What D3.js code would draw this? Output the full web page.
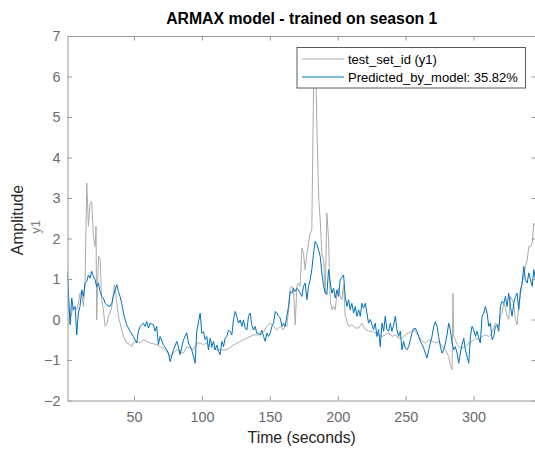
<!DOCTYPE html>
<html>
<head>
<meta charset="utf-8">
<script src="https://d3js.org/d3.v7.min.js"></script>
<style>
  body { margin: 0; background: #fff; }
  text { font-family: "Liberation Sans", Arial, sans-serif; }
</style>
</head>
<body>
<script>
const timeMeasured = [1, 2.9, 5.3, 7.8, 9.0, 10.2, 11.5, 12.7, 13.9, 15.2, 16.4, 17.6, 18.8, 20.1, 21.3, 22.0, 22.5, 23.8, 25.0, 26.2,
  27.4, 28.7, 29.9, 31.1, 32.3, 33.6, 34.8, 35.5, 36.0, 37.3, 38.5, 39.7, 40.9, 42.2, 43.4, 44.6, 47.1, 48.3, 49.5, 52.0,
  54.5, 56.9, 59.4, 61.8, 66.7, 69.2, 71.6, 74.1, 76.6, 79.0, 81.5, 83.9, 86.4, 88.8, 91.3, 93.7, 96.2, 98.7, 101.1, 103.6,
  106.1, 108.5, 111.0, 113.4, 118.3, 123.2, 128.2, 133.1, 138.0, 142.9, 145.4, 147.8, 150.3, 152.7, 155.2, 157.6, 160.1, 161.3, 162.5, 163.8,
  165.0, 166.2, 167.4, 168.7, 169.9, 171.1, 172.3, 173.6, 174.8, 176.0, 177.3, 178.5, 179.7, 180.9, 182.2, 183.0, 184.0, 184.7, 186.0, 187.1,
  188.3, 189.6, 190.8, 192.0, 193.2, 194.5, 195.7, 196.9, 198.2, 199.4, 200.6, 201.8, 203.1, 204.3, 205.5, 206.8, 208.0, 210.4, 212.9, 215.4,
  217.8, 220.3, 222.7, 225.2, 227.6, 230.1, 232.6, 235.0, 237.5, 239.9, 242.4, 244.8, 247.3, 249.8, 252.2, 254.7, 255.9, 257.1, 259.6, 262.1,
  264.5, 267.0, 269.4, 271.9, 274.3, 276.8, 279.3, 281.7, 282.9, 284.2, 284.9, 285.4, 286.6, 287.9, 289.1, 291.5, 294.0, 296.5, 298.9, 301.4,
  303.8, 306.3, 308.7, 311.2, 313.7, 316.1, 318.6, 319.8, 321.0, 322.3, 323.5, 324.7, 325.9, 327.2, 328.4, 329.6, 330.9, 332.1, 333.3, 334.6,
  335.8, 337.0, 338.2, 339.5, 340.7, 341.9, 343.2, 344.4, 345.6];
const measured = [0.6, -0.01, 0.32, 0.24, 0.40, 0.65, 0.65, 0.32, 0.90, 3.37, 2.30, 2.87, 2.91, 2.05, 1.80, 2.30, -0.01, 1.56, 1.48, 0.49,
  0.24, -0.17, -0.13, 0.08, 0.16, 0.32, 0.65, 0.86, 0.81, 0.40, 0.08, -0.09, -0.25, -0.42, -0.50, -0.58, -0.62, -0.67, -0.58, -0.54,
  -0.58, -0.50, -0.54, -0.58, -0.62, -0.67, -0.71, -0.79, -0.91, -0.83, -0.75, -0.79, -0.83, -0.67, -0.71, -0.75, -0.58, -0.58, -0.62, -0.58,
  -0.67, -0.71, -0.75, -0.75, -0.75, -0.63, -0.54, -0.46, -0.38, -0.38, -0.30, -0.17, -0.09, -0.17, -0.26, -0.17, -0.26, -0.13, -0.17, 0.24,
  0.77, 0.82, 0.73, -0.13, 0.82, 0.90, 0.82, 1.76, 1.64, 1.23, 1.64, 1.88, 2.13, 2.21, 5.75, 6.40, 5.90, 4.68, 3.00, 2.46,
  1.64, 1.48, 0.65, 2.63, 2.00, 0.48, 0.24, 0.32, 0.24, 0.65, 0.77, 0.57, 0.49, 0.86, 0.10, -0.05, -0.17, -0.13, -0.21, -0.21,
  -0.09, -0.25, -0.29, -0.29, -0.33, -0.38, -0.42, -0.38, -0.33, -0.42, -0.38, -0.46, -0.46, -0.38, -0.33, -0.29, -0.21, -0.29, -0.42, -0.54,
  -0.58, -0.50, -0.54, -0.58, -0.54, -0.67, -0.75, -0.91, -1.12, -1.24, 0.65, -0.42, -0.50, -0.62, -0.67, -0.71, -0.67, -0.58, -0.54, -0.46,
  -0.50, -0.42, -0.38, -0.42, -0.33, -0.09, -0.17, 0.08, 0.16, 0.40, 0.28, 0.08, 0.00, 0.57, 0.49, 0.40, 0.00, -0.13, 0.32, 0.65,
  0.90, 1.06, 1.31, 1.47, 1.80, 1.80, 1.88, 2.38, 2.30];

// model prediction (blue)
const timePredicted = [0.9, 2.9, 4.1, 5.3, 6.6, 7.8, 9.0, 10.2, 11.5, 12.7, 13.9, 15.2, 16.4, 17.6, 18.8, 20.1, 21.3, 22.5, 23.8, 25.0,
  26.2, 27.4, 28.7, 29.9, 32.3, 33.6, 34.8, 36.0, 37.3, 38.5, 39.7, 40.9, 42.2, 43.4, 44.6, 47.1, 49.5, 52.0, 53.2, 54.5,
  56.9, 58.1, 59.4, 60.6, 61.8, 64.3, 65.5, 66.7, 67.9, 69.2, 71.6, 74.1, 75.3, 76.6, 79.0, 81.5, 82.7, 83.9, 86.4, 88.8,
  90.1, 92.5, 95.0, 96.2, 98.7, 99.9, 101.1, 102.4, 103.6, 104.8, 106.1, 107.3, 108.5, 109.7, 111.0, 112.2, 113.4, 114.7, 115.9, 117.1,
  118.3, 119.6, 120.8, 122.0, 123.2, 124.5, 125.7, 126.9, 128.2, 129.4, 130.6, 131.8, 133.1, 134.3, 135.5, 136.7, 138.0, 139.2, 140.4, 141.7,
  142.9, 144.1, 145.4, 146.6, 147.8, 149.0, 150.3, 151.5, 152.7, 154.0, 155.2, 156.4, 157.6, 158.9, 160.1, 161.3, 162.5, 163.8, 165.0, 166.2,
  167.4, 168.7, 169.9, 171.1, 172.3, 173.6, 174.8, 176.0, 177.3, 178.5, 179.7, 180.9, 182.2, 183.4, 184.6, 185.9, 187.1, 188.3, 189.6, 190.8,
  192.0, 193.2, 194.5, 195.7, 196.9, 198.2, 199.4, 200.6, 201.8, 204.3, 205.5, 206.8, 208.0, 209.2, 210.4, 211.7, 212.9, 214.1, 215.4, 216.6,
  217.8, 219.0, 220.3, 221.5, 222.7, 224.0, 225.2, 226.4, 227.6, 228.9, 230.1, 231.3, 232.6, 233.8, 235.0, 236.2, 237.5, 238.7, 239.9, 241.2,
  242.4, 243.6, 244.8, 246.1, 247.3, 248.5, 249.8, 251.0, 252.2, 253.5, 254.7, 255.9, 257.1, 258.4, 259.6, 260.8, 262.1, 263.3, 264.5, 265.7,
  267.0, 268.2, 269.4, 270.7, 271.9, 273.1, 274.3, 275.6, 276.8, 278.0, 279.3, 280.5, 281.7, 282.9, 284.2, 285.4, 286.6, 287.9, 289.1, 290.3,
  291.5, 292.8, 294.0, 295.2, 296.5, 297.7, 298.9, 300.1, 301.4, 302.6, 303.8, 305.0, 306.3, 307.5, 308.7, 310.0, 311.2, 312.4, 313.7, 314.9,
  316.1, 317.3, 318.6, 319.8, 321.0, 322.3, 323.5, 324.7, 325.9, 327.2, 328.4, 329.6, 330.9, 332.1, 333.3, 334.6, 335.8, 337.0, 338.2, 339.5,
  340.7, 341.9, 343.2, 344.4, 345.6];
const predicted = [1.19, -0.13, 0.53, 0.24, 0.32, -0.38, 0.16, 0.32, 0.73, 0.57, 0.90, 0.94, 1.10, 1.02, 1.19, 1.06, 0.98, 0.81, 0.90, 0.69,
  0.57, 0.53, 0.40, 0.36, 0.32, 0.40, 0.57, 0.73, 0.86, 0.69, 0.57, 0.40, 0.16, 0.00, -0.13, -0.29, -0.42, -0.58, -0.29, -0.17,
  -0.09, -0.17, -0.05, -0.21, -0.09, -0.13, -0.29, -0.17, -0.62, -0.42, -0.62, -0.75, -0.83, -1.04, -0.75, -0.54, -0.67, -0.87, -0.50, -0.33,
  -0.58, -0.75, -1.08, -0.29, 0.16, -0.34, -0.30, -0.50, -0.42, -0.75, -0.46, -0.67, -0.54, -0.75, -0.63, -0.79, -0.87, -0.54, -0.67, -0.46,
  -0.42, -0.26, -0.30, -0.38, -0.01, 0.20, 0.08, -0.09, -0.01, -0.17, -0.01, -0.21, -0.26, 0.08, 0.16, -0.13, -0.26, -0.17, -0.34, -0.34,
  -0.38, -0.26, -0.42, -0.54, -0.34, -0.42, -0.34, -0.17, -0.09, 0.20, 0.16, 0.08, 0.04, -0.17, -0.09, -0.17, 0.08, 0.32, 0.69, 0.65,
  0.77, 0.69, 0.77, 0.73, 0.65, 0.57, 0.82, 0.90, 0.49, 0.82, 0.98, 1.23, 1.64, 1.93, 1.85, 1.72, 1.56, 1.15, 0.82, 0.65,
  0.61, 1.23, 0.90, 0.65, 0.77, 0.53, 0.73, 0.57, 0.98, 1.10, 0.57, 0.32, 0.49, 0.24, 0.40, 0.16, 0.32, 0.08, 0.24, 0.08,
  0.40, 0.28, 0.40, 0.16, -0.09, 0.00, -0.13, -0.25, -0.09, -0.42, -0.25, -0.67, -0.09, -0.29, 0.08, -0.25, -0.29, -0.09, -0.29, -0.13,
  0.08, -0.25, -0.42, -0.29, -0.75, -0.54, -0.71, -0.75, -0.67, -0.50, -0.33, -0.25, -0.21, -0.29, -0.42, -0.54, -0.62, -0.71, -0.83, -0.95,
  -0.75, -0.58, -0.42, -0.17, -0.05, -0.17, -0.42, -0.67, -0.83, -0.75, -0.58, -0.38, -0.09, -0.25, -0.58, -0.75, -0.67, -0.83, -1.08, -0.83,
  -0.62, -0.46, -0.75, -0.91, -1.08, -0.42, -0.17, -0.25, -0.42, -0.29, -0.46, -0.58, 0.08, 0.16, 0.32, 0.16, -0.17, -0.09, -0.50, -0.42,
  -0.17, -0.13, -0.29, 0.32, 0.45, 0.40, 0.57, 0.32, 0.65, 0.32, 0.08, 0.40, 0.57, 0.65, 0.24, 0.73, 0.90, 1.31, 0.98, 0.90,
  1.15, 0.98, 0.82, 1.23, 0.98];

const xDomain = [1, 346];
const yTicks = [-2, -1, 0, 1, 2, 3, 4, 5, 6, 7];
const xTicks = [50, 100, 150, 200, 250, 300];
const legendLabels = ["test_set_id (y1)", "Predicted_by_model: 35.82%"];

const width = 535, height = 449;
const plotLeft = 67.5, plotRight = 536, plotTop = 36, plotBottom = 400.5;

const svg = d3.select("body").append("svg")
  .attr("width", width)
  .attr("height", height)
  .style("display", "block");

svg.append("rect").attr("width", width).attr("height", height).attr("fill", "#fff");

const x = d3.scaleLinear().domain(xDomain).range([plotLeft, plotRight]);
const y = d3.scaleLinear().domain([-2, 7]).range([plotBottom, plotTop]);

const axisColor = "#9a9a9a";
const tickTextColor = "#6b6b6b";

svg.append("defs").append("clipPath").attr("id", "plotclip")
  .append("rect")
  .attr("x", plotLeft).attr("y", plotTop)
  .attr("width", plotRight - plotLeft).attr("height", plotBottom - plotTop);

const line = d3.line()
  .x(d => x(d[0]))
  .y(d => y(d[1]));

const plot = svg.append("g").attr("clip-path", "url(#plotclip)");

plot.append("path")
  .datum(timeMeasured.map((t, i) => [t, measured[i]]))
  .attr("fill", "none")
  .attr("stroke", "#ababab")
  .attr("stroke-width", 1)
  .attr("d", line);

plot.append("path")
  .datum(timePredicted.map((t, i) => [t, predicted[i]]))
  .attr("fill", "none")
  .attr("stroke", "#0072bd")
  .attr("stroke-width", 1)
  .attr("d", line);

// axes: ticks point inward on all four sides
function styleAxis(g) {
  g.select(".domain").attr("stroke", axisColor);
  g.selectAll(".tick line").attr("stroke", axisColor);
  g.selectAll(".tick text")
    .attr("fill", tickTextColor)
    .style("font-size", "14.4px")
    .style("font-family", "'Liberation Sans', Arial, sans-serif");
}

svg.append("g")
  .attr("transform", `translate(0,${plotBottom})`)
  .call(d3.axisBottom(x).tickValues(xTicks).tickSizeInner(-4.5).tickSizeOuter(0).tickPadding(11))
  .call(styleAxis);

svg.append("g")
  .attr("transform", `translate(0,${plotTop})`)
  .call(d3.axisTop(x).tickValues(xTicks).tickSizeInner(-4.5).tickSizeOuter(0).tickFormat(""))
  .call(styleAxis);

svg.append("g")
  .attr("transform", `translate(${plotLeft},0)`)
  .call(d3.axisLeft(y).tickValues(yTicks).tickSizeInner(-4.5).tickSizeOuter(0).tickPadding(7))
  .call(styleAxis);

svg.append("g")
  .attr("transform", `translate(${plotRight},0)`)
  .call(d3.axisRight(y).tickValues(yTicks).tickSizeInner(-4.5).tickSizeOuter(0).tickFormat(""))
  .call(styleAxis);

// titles
svg.append("text")
  .attr("x", (plotLeft + plotRight) / 2)
  .attr("y", 24)
  .attr("text-anchor", "middle")
  .attr("fill", "#000")
  .style("font-size", "15.8px")
  .style("font-weight", "bold")
  .text("ARMAX model - trained on season 1");

svg.append("text")
  .attr("x", (plotLeft + plotRight) / 2)
  .attr("y", 443)
  .attr("text-anchor", "middle")
  .attr("fill", "#262626")
  .style("font-size", "15.8px")
  .text("Time (seconds)");

svg.append("text")
  .attr("transform", "translate(23,220) rotate(-90)")
  .attr("text-anchor", "middle")
  .attr("fill", "#262626")
  .style("font-size", "15.8px")
  .text("Amplitude");

svg.append("text")
  .attr("transform", "translate(40,227) rotate(-90)")
  .attr("text-anchor", "middle")
  .attr("fill", "#808080")
  .style("font-size", "13px")
  .text("y1");

// legend
const legend = svg.append("g");
legend.append("rect")
  .attr("x", 297).attr("y", 47.5)
  .attr("width", 228.5).attr("height", 40.5)
  .attr("fill", "#fff")
  .attr("stroke", "#5a5a5a")
  .attr("stroke-width", 1);

const legendColors = ["#ababab", "#0072bd"];
legendLabels.forEach((label, i) => {
  const ly = 59 + i * 18;
  legend.append("line")
    .attr("x1", 302).attr("x2", 344)
    .attr("y1", ly).attr("y2", ly)
    .attr("stroke", legendColors[i])
    .attr("stroke-width", 1);
  legend.append("text")
    .attr("x", 348)
    .attr("y", ly + 4.6)
    .attr("fill", "#000")
    .style("font-size", "13px")
    .text(label);
});
</script>
</body>
</html>
